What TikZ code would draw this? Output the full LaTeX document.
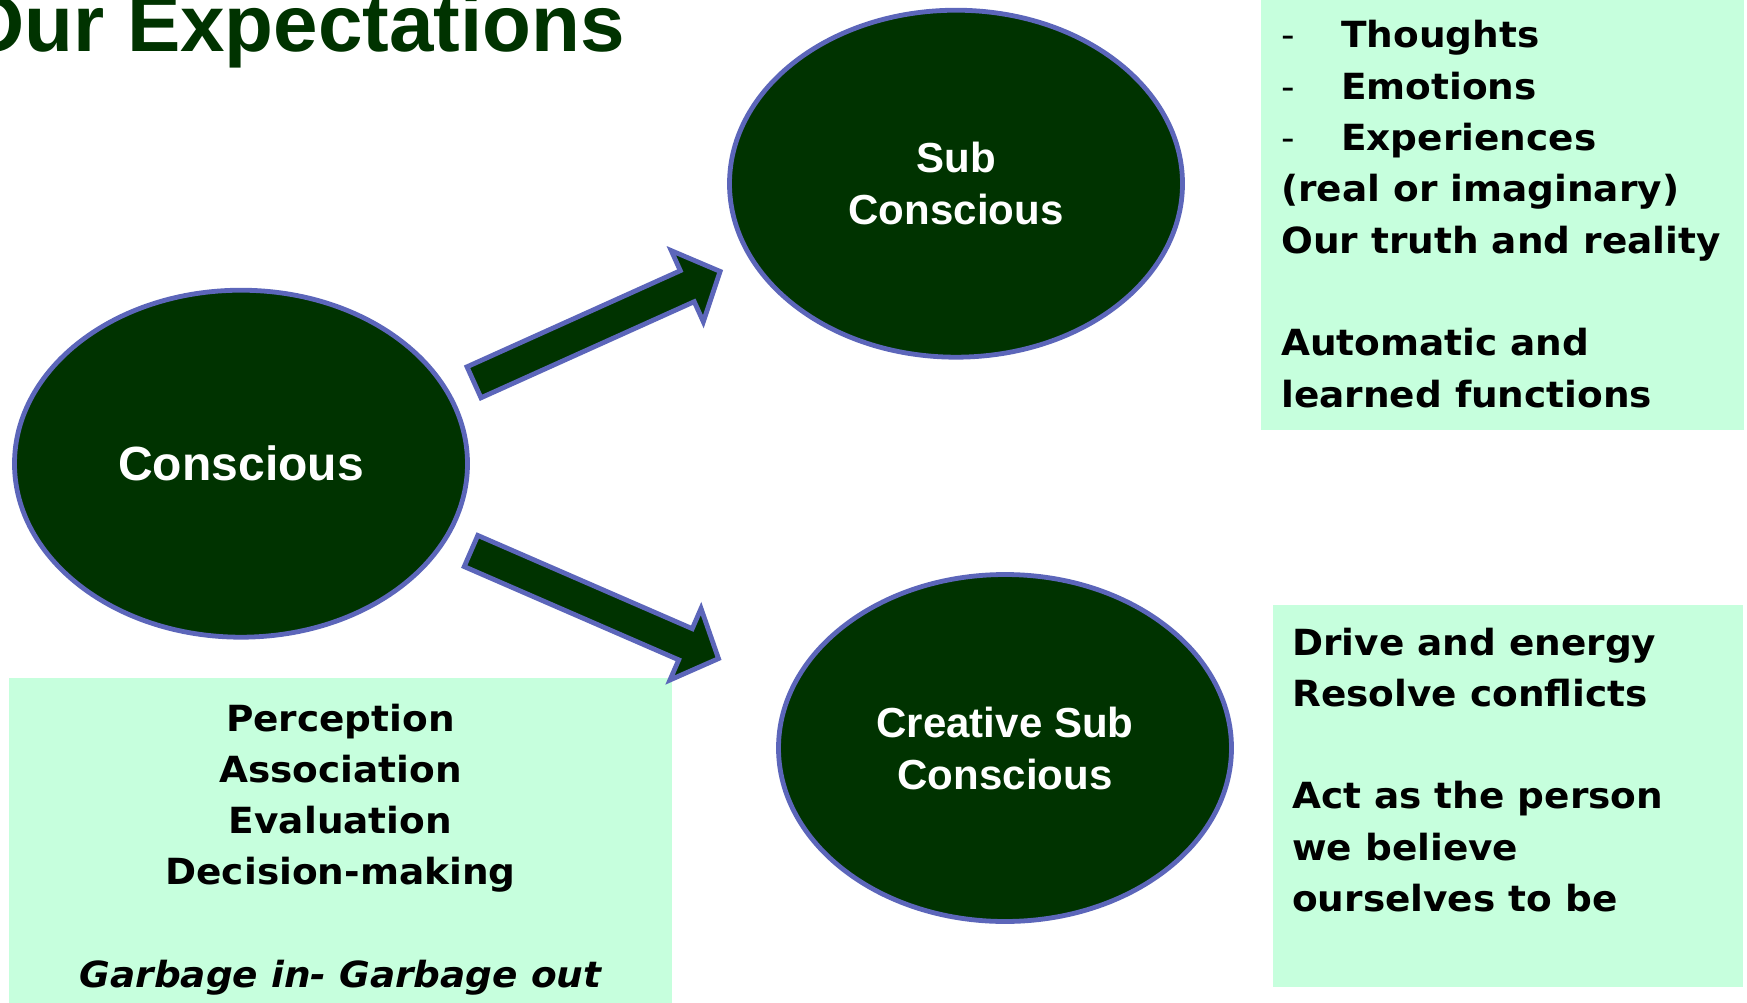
\documentclass[tikz,border=0pt]{standalone}
\usepackage{fontspec}
\setmainfont{Liberation Sans}
\newfontfamily\notefont[FakeStretch=1.04]{DejaVu Sans}
\usetikzlibrary{calc,shapes.geometric}

\definecolor{deepgreen}{RGB}{0,51,0}
\definecolor{rimblue}{RGB}{92,102,186}
\definecolor{mint}{RGB}{198,255,221}

\tikzset{
  mind/.style={ellipse, draw=rimblue, line width=4.8pt, fill=deepgreen,
    text=white, minimum width=453pt, minimum height=347pt, inner sep=0pt,
    align=center, font=\fontsize{42}{52}\selectfont\bfseries},
  arrowline/.style={draw=rimblue, line width=4.8pt, fill=deepgreen, line join=miter},
  note/.style={fill=mint},
  % anchored on the baseline of the last line
  notetext/.style={anchor=base west, inner sep=0pt, align=left,
    font=\notefont\fontsize{36}{51.3}\selectfont\bfseries},
}

% fat arrow from tail #1 to tip #2
\newcommand{\blockarrow}[2]{%
  \coordinate (#2-base) at ($(#2)!36pt!(#1)$);
  \draw[arrowline] ($(#1)!17pt!90:(#2)$) -- ($(#2-base)!17pt!90:(#2)$)
    -- ($(#2-base)!39pt!90:(#2)$) -- (#2) -- ($(#2-base)!39pt!-90:(#2)$)
    -- ($(#2-base)!17pt!-90:(#2)$) -- ($(#1)!17pt!-90:(#2)$) -- cycle;
}

\begin{document}
\begin{tikzpicture}[x=1pt,y=-1pt]
\useasboundingbox (0,0) rectangle (1747,1003);

% title, cut at the top edge
\node[anchor=base west, inner sep=0pt, text=deepgreen,
  font=\fontsize{80}{96}\selectfont\bfseries] (title) at (-37.5,52) {Our Expectations};

% text panels
\fill[note] (1260.7,0) rectangle (1744,430);
\fill[note] (1272.7,605) rectangle (1742.7,986.7);
\fill[note] (9,678) rectangle (672,1003);

\node[notetext] (inner) at (1281,407) {%
  \makebox[60pt][l]{\mdseries -}Thoughts\\
  \makebox[60pt][l]{\mdseries -}Emotions\\
  \makebox[60pt][l]{\mdseries -}Experiences\\
  (real or imaginary)\\
  Our truth and reality\\
  ~\\
  Automatic and\\
  learned functions};

\node[notetext] (drive) at (1292,911.5) {%
  Drive and energy\\
  Resolve conflicts\\
  ~\\
  Act as the person\\
  we believe\\
  ourselves to be};

\node[notetext, anchor=base, align=center] (filter) at (340.5,987.5) {%
  Perception\\
  Association\\
  Evaluation\\
  Decision-making\\
  ~\\
  \itshape Garbage in- Garbage out};

% the three minds
\node[mind, font=\fontsize{48}{58}\selectfont\bfseries] (conscious) at (241,463.7) {Conscious};
\node[mind] (sub) at (956,183.7) {Sub\\Conscious};
\node[mind] (creative) at (1005,748) {Creative Sub\\Conscious};

% arrows between them
\coordinate (tailA) at (474,382.3);  \coordinate (tipA) at (720.1,271.4);
\coordinate (tailB) at (471,551);    \coordinate (tipB) at (718.5,658.6);
\blockarrow{tailA}{tipA}
\blockarrow{tailB}{tipB}

\end{tikzpicture}
\end{document}
